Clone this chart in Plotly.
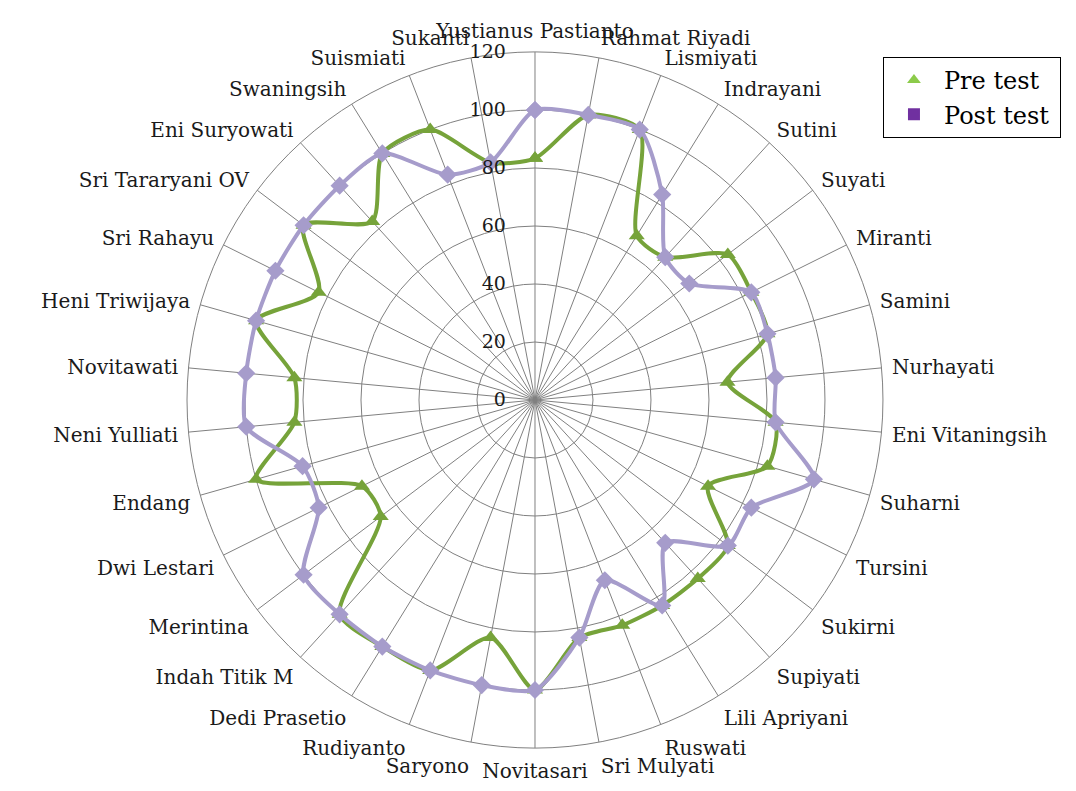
import plotly.graph_objects as go

names = ["Yustianus Pastianto", "Rahmat Riyadi", "Lismiyati", "Indrayani", "Sutini", "Suyati",
         "Miranti", "Samini", "Nurhayati", "Eni Vitaningsih", "Suharni", "Tursini", "Sukirni",
         "Supiyati", "Lili Apriyani", "Ruswati", "Sri Mulyati", "Novitasari", "Saryono",
         "Rudiyanto", "Dedi Prasetio", "Indah Titik M", "Merintina", "Dwi Lestari", "Endang",
         "Neni Yulliati", "Novitawati", "Heni Triwijaya", "Sri Rahayu", "Sri Tararyani OV",
         "Eni Suryowati", "Swaningsih", "Suismiati", "Sukanti"]

pre_test = [83.33, 100, 100, 66.67, 66.67, 83.33, 83.33, 83.33, 66.67, 83.33, 83.33, 66.67,
            83.33, 83.33, 83.33, 83.33, 83.33, 100, 83.33, 100, 100, 100, 66.67, 66.67, 100,
            83.33, 83.33, 100, 83.33, 100, 83.33, 100, 100, 83.33]

post_test = [100, 100, 100, 83.33, 66.67, 66.67, 83.33, 83.33, 83.33, 83.33, 100, 83.33,
             83.33, 66.67, 83.33, 66.67, 83.33, 100, 100, 100, 100, 100, 100, 83.33, 83.33,
             100, 100, 100, 100, 100, 100, 100, 83.33, 83.33]

radial_ticks = [0, 20, 40, 60, 80, 100, 120]

fig = go.Figure()

def closed(v):
    return list(v) + [v[0]]

fig.add_trace(go.Scatterpolar(
    r=closed(pre_test), theta=closed(names), mode="lines+markers",
    line=dict(color="#76A33A", width=4, shape="spline", smoothing=0.7),
    marker=dict(symbol="triangle-up", size=14, color="#76A33A"),
    showlegend=False, name="Pre test"))

fig.add_trace(go.Scatterpolar(
    r=closed(post_test), theta=closed(names), mode="lines+markers",
    line=dict(color="#A69CCB", width=4, shape="spline", smoothing=0.7),
    marker=dict(symbol="diamond", size=14, color="#A69CCB"),
    showlegend=False, name="Post test"))

# legend entries
fig.add_trace(go.Scatterpolar(
    r=[None], theta=[names[0]], mode="markers", name="Pre test\u00a0\u00a0",
    marker=dict(symbol="triangle-up", size=18, color="#8CCB4A")))
fig.add_trace(go.Scatterpolar(
    r=[None], theta=[names[0]], mode="markers", name="Post test",
    marker=dict(symbol="square", size=18, color="#7030A0")))

fig.update_layout(
    width=1076, height=791,
    margin=dict(l=0, r=0, t=0, b=0),
    paper_bgcolor="white",
    font=dict(family="DejaVu Serif", color="#1a1a1a"),
    polar=dict(
        domain=dict(x=[0.1738, 0.8206], y=[0.05436, 0.93426]),
        bgcolor="white",
        angularaxis=dict(
            rotation=90, direction="clockwise",
            categoryorder="array", categoryarray=names,
            showline=True, linecolor="#808080", linewidth=1,
            gridcolor="#808080", gridwidth=1,
            ticks="outside", ticklen=6, tickcolor="rgba(0,0,0,0)",
            tickfont=dict(family="DejaVu Serif", size=20, color="#1a1a1a"),
        ),
        radialaxis=dict(
            range=[0, 120], tickvals=radial_ticks, ticktext=[str(t) for t in radial_ticks],
            angle=90, tickangle=90, side="counterclockwise",
            showline=False, gridcolor="#808080", gridwidth=1,
            ticks="outside", ticklen=22, tickcolor="rgba(0,0,0,0)",
            tickfont=dict(family="DejaVu Serif", size=19, color="#1a1a1a"),
        ),
    ),
    legend=dict(
        x=0.8206, y=0.928, xanchor="left", yanchor="top",
        bgcolor="white", bordercolor="#000000", borderwidth=1,
        font=dict(family="DejaVu Serif", size=24, color="#000000"),
        itemsizing="constant", itemwidth=50, tracegroupgap=0,
    ),
)

fig.write_html("out.html")
